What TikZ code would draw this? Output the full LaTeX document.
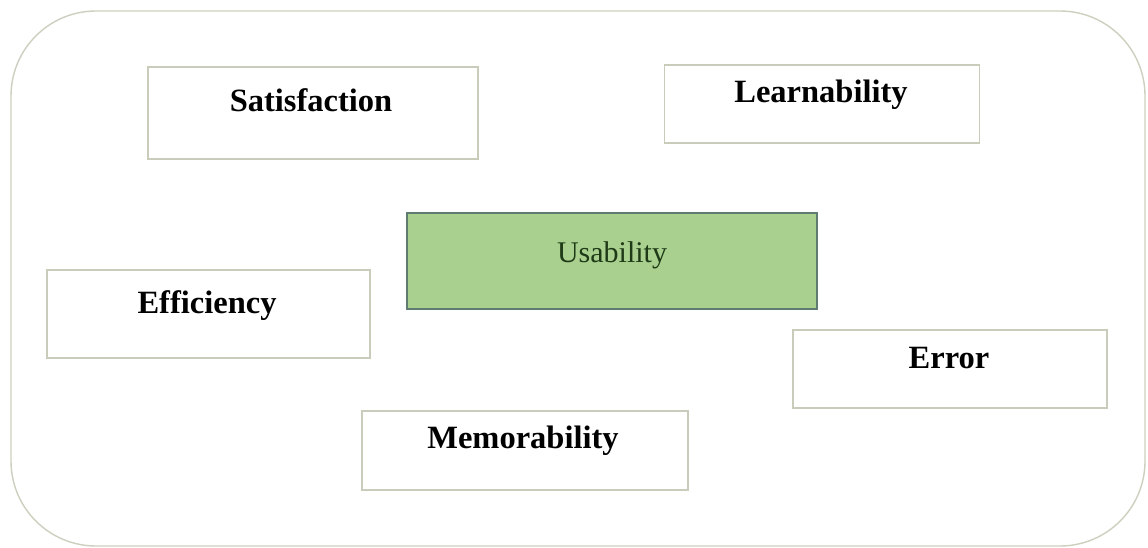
\documentclass[tikz,border=0pt]{standalone}
\usepackage{fontspec}
\setmainfont{Liberation Serif}
\definecolor{boxline}{HTML}{C9CCBA}
\definecolor{outerline}{HTML}{CDD0BF}
\definecolor{usafill}{HTML}{A9D08E}
\definecolor{usaline}{HTML}{5E7D70}
\definecolor{usatext}{HTML}{1F3A17}
\begin{document}
\begin{tikzpicture}[x=1pt,y=-1pt,
  box/.style={draw=boxline, line width=1.4pt, fill=white, rectangle, inner sep=0pt},
  lbl/.style={anchor=base, inner sep=0pt, font=\fontsize{32.5}{37}\selectfont\bfseries, text=black},
  ulbl/.style={anchor=base, inner sep=0pt, font=\fontsize{30}{35}\selectfont, text=usatext}]
\useasboundingbox (0,0) rectangle (1148,548);
\fill[white] (0,0) rectangle (1148,548);
\draw[outerline, line width=1.4pt, rounded corners=85pt] (11,11) rectangle (1145,546);
% boxes
\node[box, minimum width=330pt, minimum height=92pt] (sat) at (313,113) {};
\node[box, minimum width=315pt, minimum height=78pt] (lea) at (822,104) {};
\node[draw=usaline, fill=usafill, line width=1.4pt, rectangle, inner sep=0pt, minimum width=410pt, minimum height=96pt] (usa) at (612,261) {};
\node[box, minimum width=323pt, minimum height=88pt] (eff) at (208.5,314) {};
\node[box, minimum width=314pt, minimum height=78pt] (err) at (950,369) {};
\node[box, minimum width=326pt, minimum height=79pt] (mem) at (525,450.5) {};
% labels
\node[lbl] (satT) at (311,112) {Satisfaction};
\node[lbl] (leaT) at (821,103) {Learnability};
\node[ulbl] (usaT) at (612,262) {Usability};
\node[lbl] (effT) at (207,313) {Efficiency};
\node[lbl] (errT) at (949,368) {Error};
\node[lbl] (memT) at (523,448) {Memorability};
\end{tikzpicture}
\end{document}
